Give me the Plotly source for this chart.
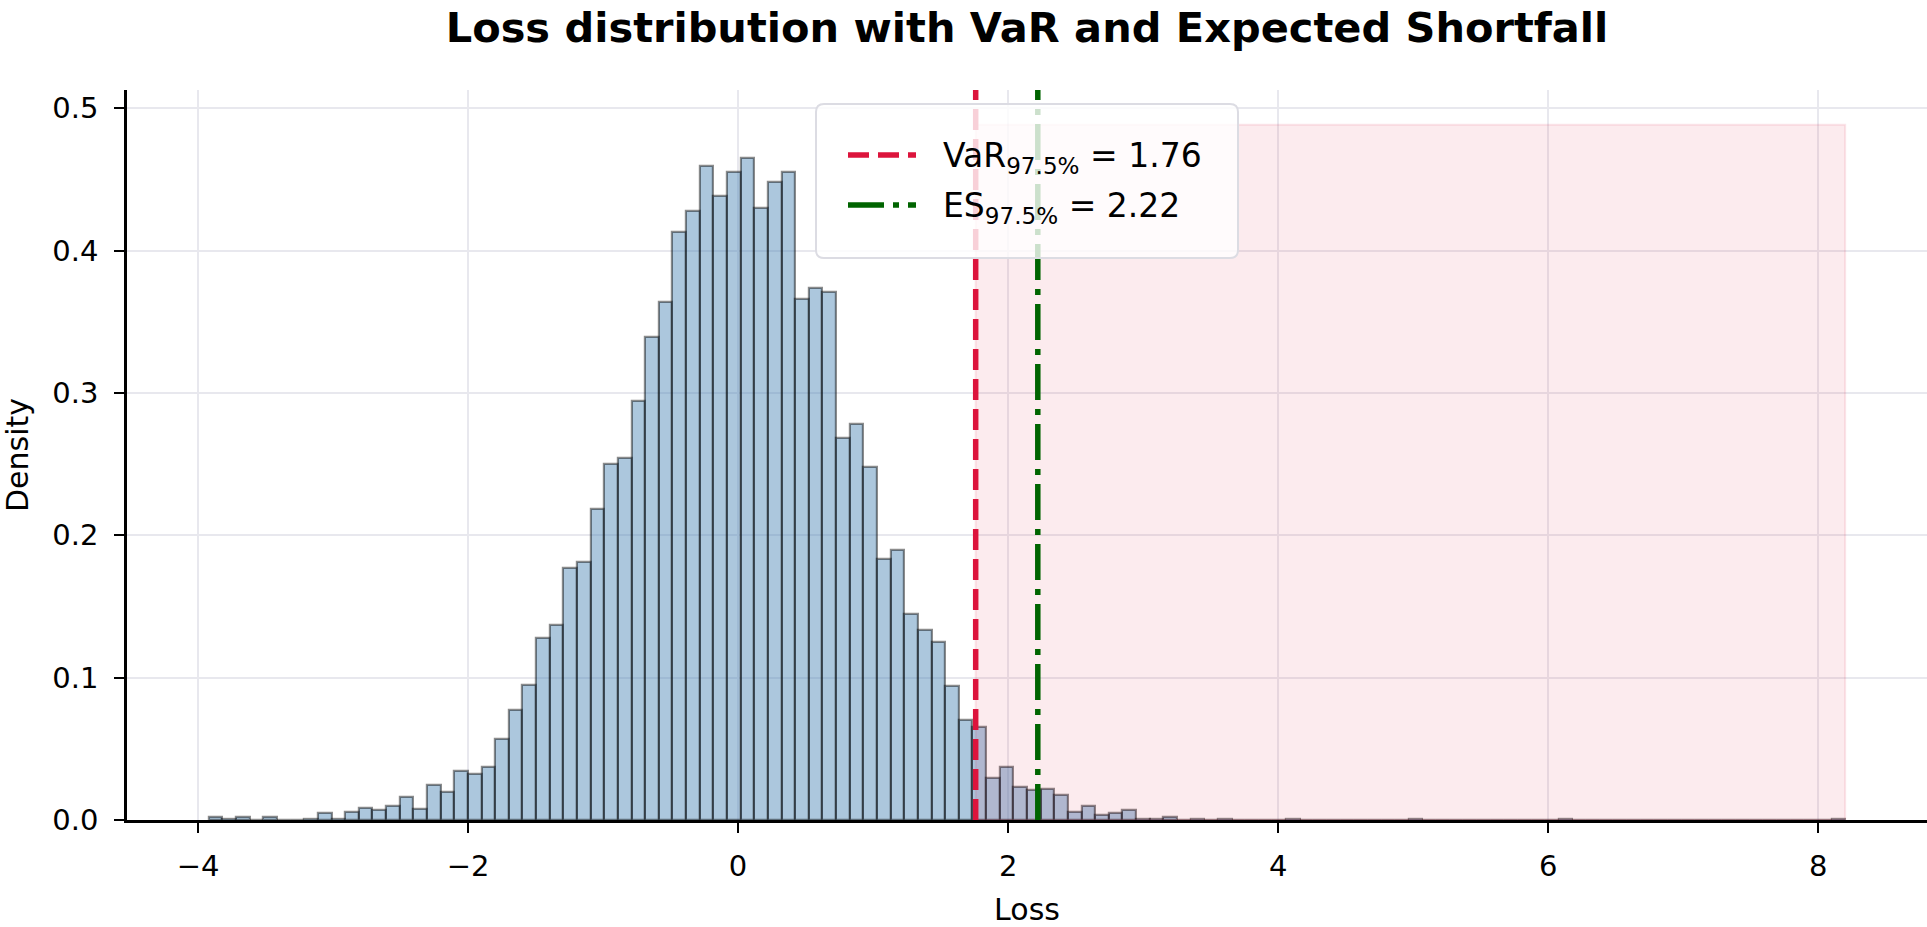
import plotly.graph_objects as go

# ---- data -------------------------------------------------------------------
loss_min = -3.92          # left edge of the first histogram bin
loss_max = 8.20           # right edge of the last histogram bin
n_bins = 120
density = [
    0.002, 0.001, 0.002, 0.0, 0.002, 0.0, 0.0, 0.001, 0.005, 0.001,
    0.0055, 0.0084, 0.007, 0.010, 0.016, 0.008, 0.0245, 0.0196, 0.0342, 0.0320,
    0.0370, 0.0566, 0.0773, 0.0949, 0.128, 0.137, 0.177, 0.181, 0.2185, 0.2498,
    0.2544, 0.2946, 0.3391, 0.3641, 0.4133, 0.4281, 0.4597, 0.4386, 0.4556, 0.4652,
    0.4300, 0.4485, 0.4556, 0.3663, 0.3737, 0.3709, 0.2686, 0.2785, 0.2482, 0.1833,
    0.190, 0.1447, 0.1335, 0.1249, 0.094, 0.0702, 0.0655, 0.0294, 0.0371, 0.0232,
    0.021, 0.0216, 0.0179, 0.0056, 0.0099, 0.0037, 0.0051, 0.0072, 0.001, 0.001,
    0.0023, 0.0, 0.001, 0.0, 0.001, 0.0, 0.0, 0.0, 0.0, 0.001,
    0.0, 0.0, 0.0, 0.0, 0.0, 0.0, 0.0, 0.0, 0.001, 0.0,
    0.0, 0.0, 0.0, 0.0, 0.0, 0.0, 0.0, 0.0, 0.0, 0.001,
    0.0, 0.0, 0.0, 0.0, 0.0, 0.0, 0.0, 0.0, 0.0, 0.0,
    0.0, 0.0, 0.0, 0.0, 0.0, 0.0, 0.0, 0.0, 0.0, 0.001,
]
var_975 = 1.76
es_975 = 2.22
x_ticks = [-4, -2, 0, 2, 4, 6, 8]
y_ticks = [0.0, 0.1, 0.2, 0.3, 0.4, 0.5]

# ---- derived ------------------------------------------------------------------
bin_width = (loss_max - loss_min) / n_bins
centers = [loss_min + (i + 0.5) * bin_width for i in range(n_bins)]
span_top = max(density) * 1.05
y_top = span_top * 1.05
pad = 0.05 * (loss_max - loss_min)
x_range = [loss_min - pad, loss_max + pad]

FONT = "DejaVu Sans"
VAR_COLOR = "#dc143c"
ES_COLOR = "#006400"
VAR_DASH = "21px,9px"
ES_DASH = "36px,9px,6px,9px"

fig = go.Figure()

fig.add_trace(go.Bar(
    x=centers, y=density, width=bin_width,
    marker=dict(color="rgba(70,130,180,0.45)",
                line=dict(color="rgba(0,0,0,0.45)", width=2.2)),
    showlegend=False, hoverinfo="skip",
))

fig.add_trace(go.Scatter(
    x=[var_975, loss_max, loss_max, var_975, var_975],
    y=[0, 0, span_top, span_top, 0],
    mode="lines", fill="toself",
    fillcolor="rgba(220,20,60,0.085)",
    line=dict(color="rgba(220,20,60,0.10)", width=2),
    showlegend=False, hoverinfo="skip",
))

fig.add_trace(go.Scatter(
    x=[var_975, var_975], y=[0, y_top], mode="lines",
    line=dict(color=VAR_COLOR, width=5.5, dash=VAR_DASH),
    showlegend=False, hoverinfo="skip",
))

fig.add_trace(go.Scatter(
    x=[es_975, es_975], y=[0, y_top], mode="lines",
    line=dict(color=ES_COLOR, width=5.5, dash=ES_DASH),
    showlegend=False, hoverinfo="skip",
))

# ---- legend box (drawn as shapes + annotations) --------------------------------
W_PLOT, H_PLOT, L, T = 1800.0, 730.0, 127.0, 90.0


def px(xp):
    return (xp - L) / W_PLOT


def py(yp):
    return 1 - (yp - T) / H_PLOT


bx0, bx1, by0, by1 = px(816), px(1238), py(104), py(258)
rx, ry = 8 / W_PLOT, 8 / H_PLOT
box_path = (
    f"M{bx0 + rx},{by0} L{bx1 - rx},{by0} Q{bx1},{by0} {bx1},{by0 - ry} "
    f"L{bx1},{by1 + ry} Q{bx1},{by1} {bx1 - rx},{by1} "
    f"L{bx0 + rx},{by1} Q{bx0},{by1} {bx0},{by1 + ry} "
    f"L{bx0},{by0 - ry} Q{bx0},{by0} {bx0 + rx},{by0} Z"
)
shapes = [dict(type="path", path=box_path, xref="paper", yref="paper",
               fillcolor="rgba(255,255,255,0.8)",
               line=dict(color="#dcdce3", width=2), layer="above")]

legend_rows = [
    (155, VAR_COLOR, VAR_DASH, f"VaR<sub>97.5%</sub> = {var_975:.2f}"),
    (205, ES_COLOR, ES_DASH, f"ES<sub>97.5%</sub> = {es_975:.2f}"),
]
annotations = []
for row_y, col, dash, label in legend_rows:
    shapes.append(dict(type="line", xref="paper", yref="paper",
                       x0=px(848), x1=px(916), y0=py(row_y), y1=py(row_y),
                       line=dict(color=col, width=5.5, dash=dash), layer="above"))
    annotations.append(dict(text=label, xref="paper", yref="paper",
                            x=px(941), y=py(row_y + 2), xanchor="left", yanchor="middle",
                            showarrow=False,
                            font=dict(family=FONT, size=33, color="black")))

axis_common = dict(
    showgrid=True, gridcolor="#e8e8ee", gridwidth=2.2,
    zeroline=False, showline=True, linecolor="black", linewidth=2.5,
    ticks="outside", ticklen=10, tickwidth=2.2, tickcolor="black",
    tickfont=dict(family=FONT, size=29, color="black"),
    title_font=dict(family=FONT, size=30, color="black"),
)

fig.update_layout(
    width=1927, height=927,
    margin=dict(l=127, r=0, t=90, b=107),
    paper_bgcolor="white", plot_bgcolor="white",
    font=dict(family=FONT, color="black"),
    title=dict(
        text="<b>Loss distribution with VaR and Expected Shortfall</b>",
        font=dict(family=FONT, size=41.5, color="black"),
        x=0.5, xref="paper", xanchor="center",
        y=1 - 27 / 927, yref="container", yanchor="middle",
    ),
    xaxis=dict(range=x_range, tickvals=x_ticks, ticklabelstandoff=8,
               title=dict(text="Loss", standoff=18), **axis_common),
    yaxis=dict(range=[0, y_top], tickvals=y_ticks, tickformat=".1f",
               ticklabelstandoff=10,
               title=dict(text="Density", standoff=22), **axis_common),
    shapes=shapes,
    annotations=annotations,
    showlegend=False,
    bargap=0,
)

fig.write_html("out.html")
